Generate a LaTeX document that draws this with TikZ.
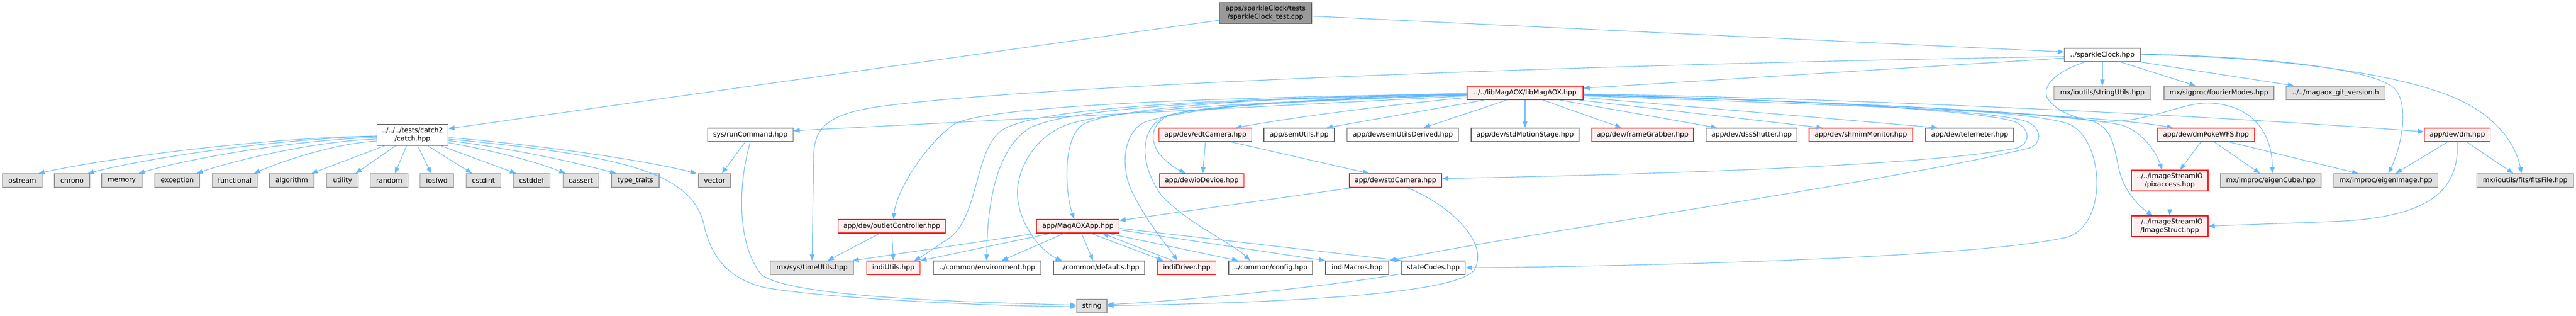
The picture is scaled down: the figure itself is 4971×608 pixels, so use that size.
\documentclass[tikz,border=0pt]{standalone}
\usepackage{fontspec}
\setmainfont{DejaVu Sans}
\usetikzlibrary{arrows.meta,calc}
\definecolor{edgeblue}{HTML}{63B8FF}
\definecolor{bord}{HTML}{666666}
\definecolor{gbord}{HTML}{999999}
\definecolor{gfill}{HTML}{E0E0E0}
\definecolor{rfill}{HTML}{FFF0F0}
\definecolor{rbord}{HTML}{FF0000}
\definecolor{mfill}{HTML}{999999}
\begin{document}
\begin{tikzpicture}[x=1pt,y=-1pt,
  base/.style={rectangle, line width=1.4pt, minimum height=26pt, inner xsep=2pt, inner ysep=1pt,
    align=center, font=\fontsize{13}{15.5}\selectfont, text=black},
  wbox/.style={base, draw=bord, fill=white},
  gbox/.style={base, draw=gbord, fill=gfill},
  rbox/.style={base, draw=rbord, fill=rfill},
  mbox/.style={base, draw=bord, fill=mfill},
  mw/.style={minimum width=#1pt},
  tall/.style={minimum height=40pt},
  edg/.style={draw=edgeblue, line width=1.1pt, -{Triangle[length=12pt,width=9pt]}}]
\useasboundingbox (0,0) rectangle (4971,608);

% ---------- nodes ----------
\node[mbox,mw=178,tall] (main) at (2442,25) {apps/sparkleClock/tests\\/sparkleClock\_test.cpp};
\node[wbox,mw=147] (sparkle) at (4057,106) {../sparkleClock.hpp};

\node[rbox,mw=224] (lib) at (2943,179) {../../libMagAOX/libMagAOX.hpp};
\node[gbox,mw=187] (strU) at (4057,179) {mx/ioutils/stringUtils.hpp};
\node[gbox,mw=212] (fourier) at (4282,179) {mx/sigproc/fourierModes.hpp};
\node[gbox,mw=191] (gitv) at (4507,179) {../../magaox\_git\_version.h};

\node[wbox,mw=137,tall] (catch) at (796,260) {../../../tests/catch2\\/catch.hpp};
\node[wbox,mw=165] (runcmd) at (1448,260) {sys/runCommand.hpp};
\node[rbox,mw=179] (edt) at (2326,260) {app/dev/edtCamera.hpp};
\node[wbox,mw=136] (semU) at (2507,260) {app/semUtils.hpp};
\node[wbox,mw=215] (semUD) at (2707,260) {app/dev/semUtilsDerived.hpp};
\node[wbox,mw=208] (stdMS) at (2943,260) {app/dev/stdMotionStage.hpp};
\node[rbox,mw=196] (frameG) at (3170,260) {app/dev/frameGrabber.hpp};
\node[wbox,mw=175] (dss) at (3380,260) {app/dev/dssShutter.hpp};
\node[rbox,mw=200] (shmim) at (3591,260) {app/dev/shmimMonitor.hpp};
\node[wbox,mw=170] (telem) at (3801,260) {app/dev/telemeter.hpp};
\node[rbox,mw=187] (dmPoke) at (4257,260) {app/dev/dmPokeWFS.hpp};
\node[rbox,mw=127] (dm) at (4742,260) {app/dev/dm.hpp};

\node[gbox,mw=76] (ostream) at (43,348) {ostream};
\node[gbox,mw=68] (chrono) at (139,348) {chrono};
\node[gbox,mw=78] (memory) at (235,348) {memory};
\node[gbox,mw=86] (exception) at (342,348) {exception};
\node[gbox,mw=87] (functional) at (453,348) {functional};
\node[gbox,mw=86] (algorithm) at (563,348) {algorithm};
\node[gbox,mw=61] (utility) at (661,348) {utility};
\node[gbox,mw=73] (random) at (751,348) {random};
\node[gbox,mw=65] (iosfwd) at (843,348) {iosfwd};
\node[gbox,mw=67] (cstdint) at (933,348) {cstdint};
\node[gbox,mw=71] (cstddef) at (1026,348) {cstddef};
\node[gbox,mw=69] (cassert) at (1121,348) {cassert};
\node[gbox,mw=92] (ttraits) at (1226,348) {type\_traits};
\node[gbox,mw=62] (vector) at (1379,348) {vector};
\node[rbox,mw=163] (ioDevice) at (2319,348) {app/dev/ioDevice.hpp};
\node[rbox,mw=178] (stdCam) at (2693,348) {app/dev/stdCamera.hpp};
\node[rbox,mw=148,tall] (pixacc) at (4187,348) {../../ImageStreamIO\\/pixaccess.hpp};
\node[gbox,mw=194] (eigenCube) at (4382,348) {mx/improc/eigenCube.hpp};
\node[gbox,mw=201] (eigenImg) at (4604,348) {mx/improc/eigenImage.hpp};
\node[gbox,mw=187] (fits) at (4873,348) {mx/ioutils/fits/fitsFile.hpp};

\node[rbox,mw=207] (outlet) at (1721,436) {app/dev/outletController.hpp};
\node[rbox,mw=159] (magapp) at (2080,436) {app/MagAOXApp.hpp};
\node[rbox,mw=148,tall] (imgStruct) at (4187,436) {../../ImageStreamIO\\/ImageStruct.hpp};

\node[gbox,mw=161] (timeU) at (1567,516) {mx/sys/timeUtils.hpp};
\node[rbox,mw=103] (indiU) at (1724,516) {indiUtils.hpp};
\node[wbox,mw=207] (env) at (1905,516) {../common/environment.hpp};
\node[wbox,mw=176] (defaults) at (2121,516) {../common/defaults.hpp};
\node[rbox,mw=113] (indiD) at (2290,516) {indiDriver.hpp};
\node[wbox,mw=162] (config) at (2452,516) {../common/config.hpp};
\node[wbox,mw=122] (indiM) at (2619,516) {indiMacros.hpp};
\node[wbox,mw=123] (stateC) at (2766,516) {stateCodes.hpp};

\node[gbox,mw=58] (string) at (2107,590) {string};

% ---------- main ----------
\draw[edg] ($(main.west)+(0,14)$) -- ($(catch.east)+(0,-12)$);
\draw[edg] ($(main.east)+(0,6)$) -- ($(sparkle.west)+(0,-6)$);

% ---------- sparkleClock.hpp ----------
\draw[edg] ($(sparkle.west)+(0,6)$) -- ($(lib.east)+(0,-9)$);
\draw[edg] ($(sparkle.west)+(0,3)$) .. controls (3000,125) and (2000,165) .. (1700,205)
  .. controls (1590,220) and (1572,250) .. (1570,300) -- (timeU.north);
\draw[edg] (sparkle.south) -- (strU.north);
\draw[edg] ($(sparkle.south)+(36,0)$) -- ($(fourier.north)+(-45,0)$);
\draw[edg] (sparkle.south east) -- ($(gitv.north)+(-80,0)$);
\draw[edg] ($(sparkle.east)+(0,-2)$) .. controls (4400,110) and (4580,135) .. (4620,170)
  .. controls (4650,200) and (4635,280) .. ($(eigenImg.north)+(5,0)$);
\draw[edg] ($(sparkle.east)+(0,-1)$) .. controls (4450,112) and (4650,150) .. (4740,190)
  .. controls (4820,225) and (4855,280) .. ($(fits.north)+(-7,0)$);
\draw[edg] ($(sparkle.south)+(-34,0)$) .. controls (3960,140) and (3930,175) .. (3960,200)
  .. controls (3990,230) and (4060,245) .. (4141,225)
  .. controls (4200,212) and (4230,196) .. (4270,199)
  .. controls (4350,205) and (4385,260) .. ($(eigenCube.north)+(3,0)$);

% ---------- libMagAOX.hpp ----------
\draw[edg] ($(lib.west)+(0,6)$) -- ($(runcmd.east)+(0,-8)$);
\draw[edg] ($(lib.west)+(0,2)$) .. controls (2300,188) and (1900,205) .. (1840,240)
  .. controls (1780,285) and (1730,370) .. ($(outlet.north)+(3,0)$);
\draw[edg] ($(lib.west)+(0,3)$) .. controls (2300,190) and (2000,210) .. (1935,250)
  .. controls (1880,285) and (1890,420) .. (1830,460)
  .. controls (1800,480) and (1778,495) .. ($(indiU.north east)+(-12,0)$);
\draw[edg] ($(lib.west)+(0,4)$) .. controls (2400,190) and (2080,205) .. (1990,245)
  .. controls (1920,285) and (1905,400) .. ($(env.north)+(-1,0)$);
\draw[edg] ($(lib.west)+(0,5)$) .. controls (2450,195) and (2150,210) .. (2060,240)
  .. controls (1990,265) and (1955,340) .. (1965,390)
  .. controls (1975,450) and (2020,490) .. ($(defaults.north west)+(17,0)$);
\draw[edg] ($(lib.west)+(0,1)$) .. controls (2500,185) and (2150,205) .. (2090,240)
  .. controls (2050,265) and (2055,370) .. ($(magapp.north)+(-7,0)$);
\draw[edg] ($(lib.west)+(0,2)$) .. controls (2550,188) and (2300,205) .. (2210,235)
  .. controls (2165,255) and (2160,330) .. (2190,380)
  .. controls (2215,430) and (2250,470) .. ($(indiD.north)+(-18,0)$);
\draw[edg] ($(lib.west)+(0,3)$) .. controls (2600,190) and (2330,200) .. (2255,222)
  .. controls (2200,240) and (2195,310) .. (2240,375)
  .. controls (2290,430) and (2380,470) .. ($(config.north west)+(42,0)$);
\draw[edg] ($(lib.west)+(0,4)$) .. controls (2650,190) and (2350,200) .. (2265,220)
  .. controls (2215,232) and (2205,290) .. ($(ioDevice.north west)+(51,0)$);
\draw[edg] ($(lib.west)+(0,9)$) .. controls (2700,200) and (2500,225) .. ($(edt.north east)+(-32,0)$);
\draw[edg] ($(lib.south west)+(35,0)$) -- ($(semU.north east)+(-16,0)$);
\draw[edg] ($(lib.south)+(-35,0)$) -- ($(semUD.north east)+(-68,0)$);
\draw[edg] (lib.south) -- (stdMS.north);
\draw[edg] ($(lib.south)+(34,0)$) -- ($(frameG.north west)+(58,0)$);
\draw[edg] ($(lib.south)+(66,0)$) -- ($(dss.north west)+(22,0)$);
\draw[edg] ($(lib.south east)+(-10,0)$) -- ($(shmim.north west)+(27,0)$);
\draw[edg] ($(lib.east)+(0,9)$) -- ($(telem.north west)+(24,0)$);
\draw[edg] ($(lib.east)+(0,3)$) .. controls (3400,190) and (3850,212) .. (3893,237)
  .. controls (3918,252) and (3918,275) .. (3893,285)
  .. controls (3700,325) and (3000,340) .. ($(stdCam.east)+(0,-4)$);
\draw[edg] ($(lib.east)+(0,4)$) .. controls (3400,192) and (3870,210) .. (3917,237)
  .. controls (3940,252) and (3940,275) .. (3917,285)
  .. controls (3650,350) and (3000,440) .. (indiM.north east);
\draw[edg] ($(lib.east)+(0,5)$) .. controls (3500,195) and (3900,210) .. (3990,238)
  .. controls (4060,265) and (4070,430) .. (3990,457)
  .. controls (3800,500) and (3100,514) .. (stateC.east);
\draw[edg] ($(lib.east)+(0,6)$) .. controls (3500,200) and (4050,220) .. ($(dmPoke.north west)+(31,0)$);
\draw[edg] ($(lib.east)+(0,2)$) .. controls (3600,190) and (4300,225) .. ($(dm.west)+(0,-6)$);
\draw[edg] ($(lib.east)+(0,3)$) .. controls (3500,195) and (3950,215) .. (4090,240)
  .. controls (4130,250) and (4160,290) .. ($(pixacc.north west)+(60,0)$);
\draw[edg] ($(lib.east)+(0,4)$) .. controls (3500,195) and (3950,215) .. (4037,233)
  .. controls (4080,248) and (4080,290) .. (4090,330)
  .. controls (4100,370) and (4130,400) .. ($(imgStruct.north west)+(42,0)$);

% ---------- catch.hpp ----------
\draw[edg] ($(catch.west)+(0,2)$) .. controls (499,266) and (205,305) .. ($(ostream.north)+(31,0)$);
\draw[edg] ($(catch.west)+(0,3)$) .. controls (532,267) and (281,305) .. ($(chrono.north)+(30,0)$);
\draw[edg] ($(catch.west)+(0,5)$) .. controls (567,269) and (359,307) .. ($(memory.north)+(32,0)$);
\draw[edg] ($(catch.west)+(0,8)$) .. controls (606,272) and (449,310) .. ($(exception.north)+(37,0)$);
\draw[edg] ($(catch.west)+(0,12)$) .. controls (645,276) and (538,313) .. ($(functional.north)+(37,0)$);
\draw[edg] ($(catch.south west)+(16,0)$) -- ($(algorithm.north)+(38,0)$);
\draw[edg] ($(catch.south west)+(37,0)$) -- ($(utility.north)+(25,0)$);
\draw[edg] ($(catch.south west)+(58,0)$) -- ($(random.north)+(11,0)$);
\draw[edg] ($(catch.south west)+(79,0)$) -- ($(iosfwd.north)+(-11,0)$);
\draw[edg] ($(catch.south west)+(98,0)$) -- ($(cstdint.north)+(-22,0)$);
\draw[edg] ($(catch.south east)+(-15,0)$) -- ($(cstddef.north)+(-30,0)$);
\draw[edg] ($(catch.east)+(0,15)$) .. controls (950,290) and (1030,310) .. ($(cassert.north)+(-30,0)$);
\draw[edg] ($(catch.east)+(0,11)$) .. controls (980,285) and (1100,310) .. ($(ttraits.north)+(-37,0)$);
\draw[edg] ($(catch.east)+(0,5)$) .. controls (1050,280) and (1250,310) .. ($(vector.north west)+(-3,0)$);
\draw[edg] ($(catch.east)+(0,8)$) .. controls (1200,300) and (1340,330) .. (1360,440)
  .. controls (1375,500) and (1410,540) .. (1480,555)
  .. controls (1600,575) and (1900,590) .. ($(string.west)+(0,1)$);

% ---------- sys/runCommand.hpp ----------
\draw[edg] ($(runcmd.south)+(-10,0)$) -- ($(vector.north)+(14,0)$);
\draw[edg] (runcmd.south) .. controls (1425,350) and (1420,470) .. (1470,530)
  .. controls (1530,575) and (1900,583) .. ($(string.west)+(0,-2)$);

% ---------- outletController ----------
\draw[edg] ($(outlet.south west)+(81,0)$) -- ($(timeU.north east)+(-51,0)$);
\draw[edg] (outlet.south) -- (indiU.north);

% ---------- MagAOXApp ----------
\draw[edg] (magapp.south west) -- ($(timeU.north east)+(-3,0)$);
\draw[edg] ($(magapp.south west)+(28,0)$) -- (indiU.north east);
\draw[edg] ($(magapp.south west)+(54,0)$) -- ($(env.north)+(28,0)$);
\draw[edg] ($(magapp.south)+(7,0)$) -- ($(defaults.north west)+(77,0)$);
\draw[edg] ($(magapp.south)+(25,0)$) -- ($(indiD.north west)+(12,0)$);
\draw[edg] ($(magapp.south east)+(-23,0)$) -- ($(config.north west)+(19,0)$);
\draw[edg] ($(magapp.east)+(0,7)$) -- (indiM.north west);
\draw[edg] ($(magapp.east)+(0,4)$) -- (stateC.north west);
\draw[edg] ($(indiD.north)+(-27,0)$) -- ($(magapp.south)+(47,0)$);

% ---------- cameras ----------
\draw[edg] (edt.south) -- ($(ioDevice.north)+(2,0)$);
\draw[edg] ($(edt.south east)+(-40,0)$) -- ($(stdCam.north west)+(39,0)$);
\draw[edg] ($(stdCam.south west)+(7,0)$) -- ($(magapp.east)+(0,-11)$);
\draw[edg] ($(stdCam.south)+(22,0)$) .. controls (2800,395) and (2875,470) .. (2845,520)
  .. controls (2810,572) and (2400,585) .. ($(string.east)+(0,-1)$);
\draw[edg] ($(stateC.south west)+(0,-2)$) .. controls (2550,555) and (2250,582) .. ($(string.east)+(0,-3)$);

% ---------- dm ----------
\draw[edg] ($(dmPoke.south)+(-10,0)$) -- ($(pixacc.north)+(20,0)$);
\draw[edg] ($(dmPoke.south)+(16,0)$) -- ($(eigenCube.north)+(-21,0)$);
\draw[edg] ($(dmPoke.south)+(45,0)$) -- ($(eigenImg.north west)+(48,0)$);
\draw[edg] ($(dm.south)+(-19,0)$) -- ($(eigenImg.north)+(19,0)$);
\draw[edg] ($(dm.south)+(18,0)$) -- ($(fits.north)+(-23,0)$);
\draw[edg] (dm.south) .. controls (4745,360) and (4700,420) .. (4500,427)
  .. controls (4400,431) and (4300,434) .. (imgStruct.east);
\draw[edg] (pixacc.south) -- (imgStruct.north);
\end{tikzpicture}
\end{document}
